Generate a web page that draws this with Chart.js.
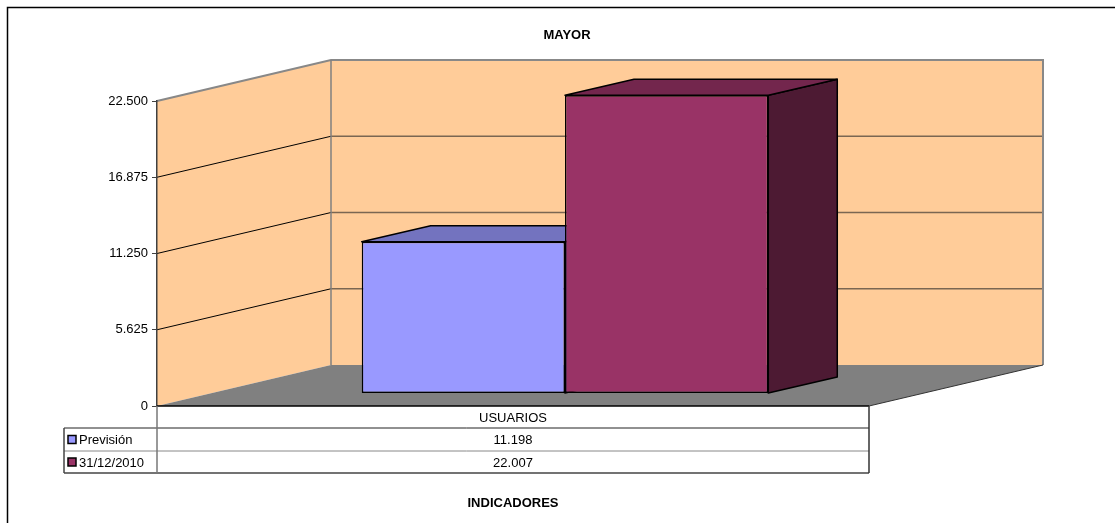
<!DOCTYPE html>
<html>
<head>
<meta charset="utf-8">
<script src="https://cdn.jsdelivr.net/npm/chart.js@4"></script>
<style>
  body { margin: 0; background: #fff; }
  #wrap { width: 1115px; height: 523px; }
</style>
</head>
<body>
<div id="wrap"><canvas id="myChart" width="1115" height="523"></canvas></div>
<script>
var categories = ['USUARIOS'];
var seriesNames = ['Previsión', '31/12/2010'];
var prevision = [11198];
var actual = [22007];
var yTicks = [0, 5625, 11250, 16875, 22500];

// 22500 -> "22.500"
function fmt(v) { return String(v).replace(/\B(?=(\d{3})+(?!\d))/g, '.'); }

var FONT = "'Liberation Sans', Arial, sans-serif";
var WALL = {dx: 174, dy: -41};      // depth of the back wall
var BAR_OFF = {dx: 52, dy: -12.5};  // bars stand a bit behind the front plane
var BAR_DEPTH = {dx: 69, dy: -16};
var topColors = ['#7373bf', '#73264d'];
var sideColors = ['#4d4d80', '#4d1a33'];
var swatchColors = ['#9999ff', '#993366'];

function poly(ctx, pts, fill, stroke, lw) {
  ctx.beginPath();
  ctx.moveTo(pts[0][0], pts[0][1]);
  for (var i = 1; i < pts.length; i++) ctx.lineTo(pts[i][0], pts[i][1]);
  ctx.closePath();
  if (fill) { ctx.fillStyle = fill; ctx.fill(); }
  if (stroke) { ctx.strokeStyle = stroke; ctx.lineWidth = lw || 1; ctx.stroke(); }
}
function line(ctx, pts, color, lw) {
  ctx.beginPath();
  ctx.moveTo(pts[0][0], pts[0][1]);
  for (var i = 1; i < pts.length; i++) ctx.lineTo(pts[i][0], pts[i][1]);
  ctx.strokeStyle = color; ctx.lineWidth = lw; ctx.stroke();
}

var box3d = {
  id: 'box3d',
  beforeDraw: function(chart) {
    var ctx = chart.ctx, a = chart.chartArea, ys = chart.scales.y;
    var L = a.left, R = a.right, T = a.top, B = a.bottom;
    var dx = WALL.dx, dy = WALL.dy;
    ctx.save();
    ctx.fillStyle = '#fff';
    ctx.fillRect(0, 0, chart.width, chart.height);
    ctx.strokeStyle = '#000'; ctx.lineWidth = 1.5;
    ctx.strokeRect(7.5, 7.5, chart.width + 20, chart.height + 20);

    ctx.fillStyle = '#000';
    ctx.font = 'bold 13px ' + FONT;
    ctx.textAlign = 'center'; ctx.textBaseline = 'middle';
    ctx.fillText('MAYOR', 567, 35);

    // walls and floor
    poly(ctx, [[L, T], [L + dx, T + dy], [L + dx, B + dy], [L, B]], '#ffcc99');
    poly(ctx, [[L + dx, T + dy], [R + dx, T + dy], [R + dx, B + dy], [L + dx, B + dy]], '#ffcc99');
    poly(ctx, [[L, B], [L + dx, B + dy], [R + dx, B + dy], [R, B]], '#808080');

    yTicks.forEach(function(v) {
      if (v === 0 || v === yTicks[yTicks.length - 1]) return;
      var y = ys.getPixelForValue(v);
      line(ctx, [[L, y], [L + dx, y + dy]], '#000', 1);
      line(ctx, [[L + dx, y + dy], [R + dx, y + dy]], '#7a6652', 1.5);
    });
    line(ctx, [[L, T], [L + dx, T + dy], [R + dx, T + dy], [R + dx, B + dy]], '#888', 2);
    line(ctx, [[L + dx, T + dy], [L + dx, B + dy]], '#808080', 1.5);
    line(ctx, [[R + dx, B + dy], [R, B]], '#333', 1);
    ctx.restore();
  },
  beforeDatasetsDraw: function(chart) {
    var ctx = chart.ctx;
    ctx.save();
    ctx.translate(BAR_OFF.dx, BAR_OFF.dy);
    chart.data.datasets.forEach(function(ds, di) {
      chart.getDatasetMeta(di).data.forEach(function(bar) {
        var l = bar.x - bar.width / 2, r = bar.x + bar.width / 2, t = bar.y, b = bar.base;
        var ex = BAR_DEPTH.dx, ey = BAR_DEPTH.dy;
        ctx.lineJoin = 'round';
        poly(ctx, [[r, t], [r + ex, t + ey], [r + ex, b + ey], [r, b]], sideColors[di], '#000', 1.5);
        poly(ctx, [[l, t], [l + ex, t + ey], [r + ex, t + ey], [r, t]], topColors[di], '#000', 1.5);
      });
    });
  },
  afterDatasetsDraw: function(chart) {
    chart.ctx.restore();
  },
  afterDraw: function(chart) {
    var ctx = chart.ctx, a = chart.chartArea, xs = chart.scales.x;
    var L = a.left, R = a.right, B = a.bottom;
    var rows = [B, 428, 451, 473], legL = 64;
    var series = [prevision, actual];
    ctx.save();
    line(ctx, [[L, B], [R, B]], '#000', 1.5);
    line(ctx, [[legL, rows[1]], [R, rows[1]]], '#222', 1);
    line(ctx, [[legL, rows[2]], [R, rows[2]]], '#888', 1);
    line(ctx, [[legL, rows[3]], [R, rows[3]]], '#444', 1.5);
    line(ctx, [[L, B], [L, rows[3]]], '#777', 1.5);
    line(ctx, [[R, B], [R, rows[3]]], '#333', 1.5);
    line(ctx, [[legL, rows[1]], [legL, rows[3]]], '#444', 1.5);

    ctx.font = '13px ' + FONT;
    ctx.fillStyle = '#000';
    ctx.textBaseline = 'middle';
    ctx.textAlign = 'center';
    categories.forEach(function(c, i) {
      var cx = xs.getPixelForValue(i);
      ctx.fillText(c, cx, (rows[0] + rows[1]) / 2 + 1);
      series.forEach(function(s, si) {
        ctx.fillText(fmt(s[i]), cx, (rows[si + 1] + rows[si + 2]) / 2 + 1);
      });
    });
    seriesNames.forEach(function(n, si) {
      var cy = (rows[si + 1] + rows[si + 2]) / 2;
      ctx.fillStyle = swatchColors[si];
      ctx.fillRect(68, cy - 4, 8, 8);
      ctx.strokeStyle = '#000'; ctx.lineWidth = 1.5;
      ctx.strokeRect(68, cy - 4, 8, 8);
      ctx.fillStyle = '#000';
      ctx.textAlign = 'left';
      ctx.fillText(n, 79, cy + 1);
    });

    ctx.font = 'bold 13px ' + FONT;
    ctx.textAlign = 'center';
    ctx.fillText('INDICADORES', 513, 503);
    ctx.restore();
  }
};

var ctx = document.getElementById('myChart').getContext('2d');
var myChart = new Chart(ctx, {
  type: 'bar',
  data: {
    labels: categories,
    datasets: [{
      label: seriesNames[0],
      data: prevision,
      backgroundColor: '#9999ff',
      borderColor: '#000',
      borderWidth: 1.5,
      borderSkipped: false,
      clip: false
    }, {
      label: seriesNames[1],
      data: actual,
      backgroundColor: '#993366',
      borderColor: '#000',
      borderWidth: 1.5,
      borderSkipped: false,
      clip: false
    }]
  },
  options: {
    responsive: false,
    animation: false,
    events: [],
    categoryPercentage: 0.571,
    barPercentage: 1,
    layout: { padding: { left: 0, top: 101, right: 246, bottom: 117 } },
    plugins: {
      legend: { display: false },
      tooltip: { enabled: false },
      title: { display: false }
    },
    scales: {
      x: { display: false },
      y: {
        min: 0,
        max: 22500,
        afterBuildTicks: function(s) { s.ticks = yTicks.map(function(v) { return {value: v}; }); },
        afterFit: function(s) { s.width = 157; },
        ticks: {
          color: '#000',
          padding: 4,
          font: { family: FONT, size: 13 },
          callback: function(v) { return fmt(v); }
        },
        grid: { drawOnChartArea: false, drawTicks: true, tickLength: 5, color: '#404040', tickColor: '#404040' },
        border: { display: true, color: '#404040', width: 1.5 }
      }
    }
  },
  plugins: [box3d]
});
</script>
</body>
</html>
